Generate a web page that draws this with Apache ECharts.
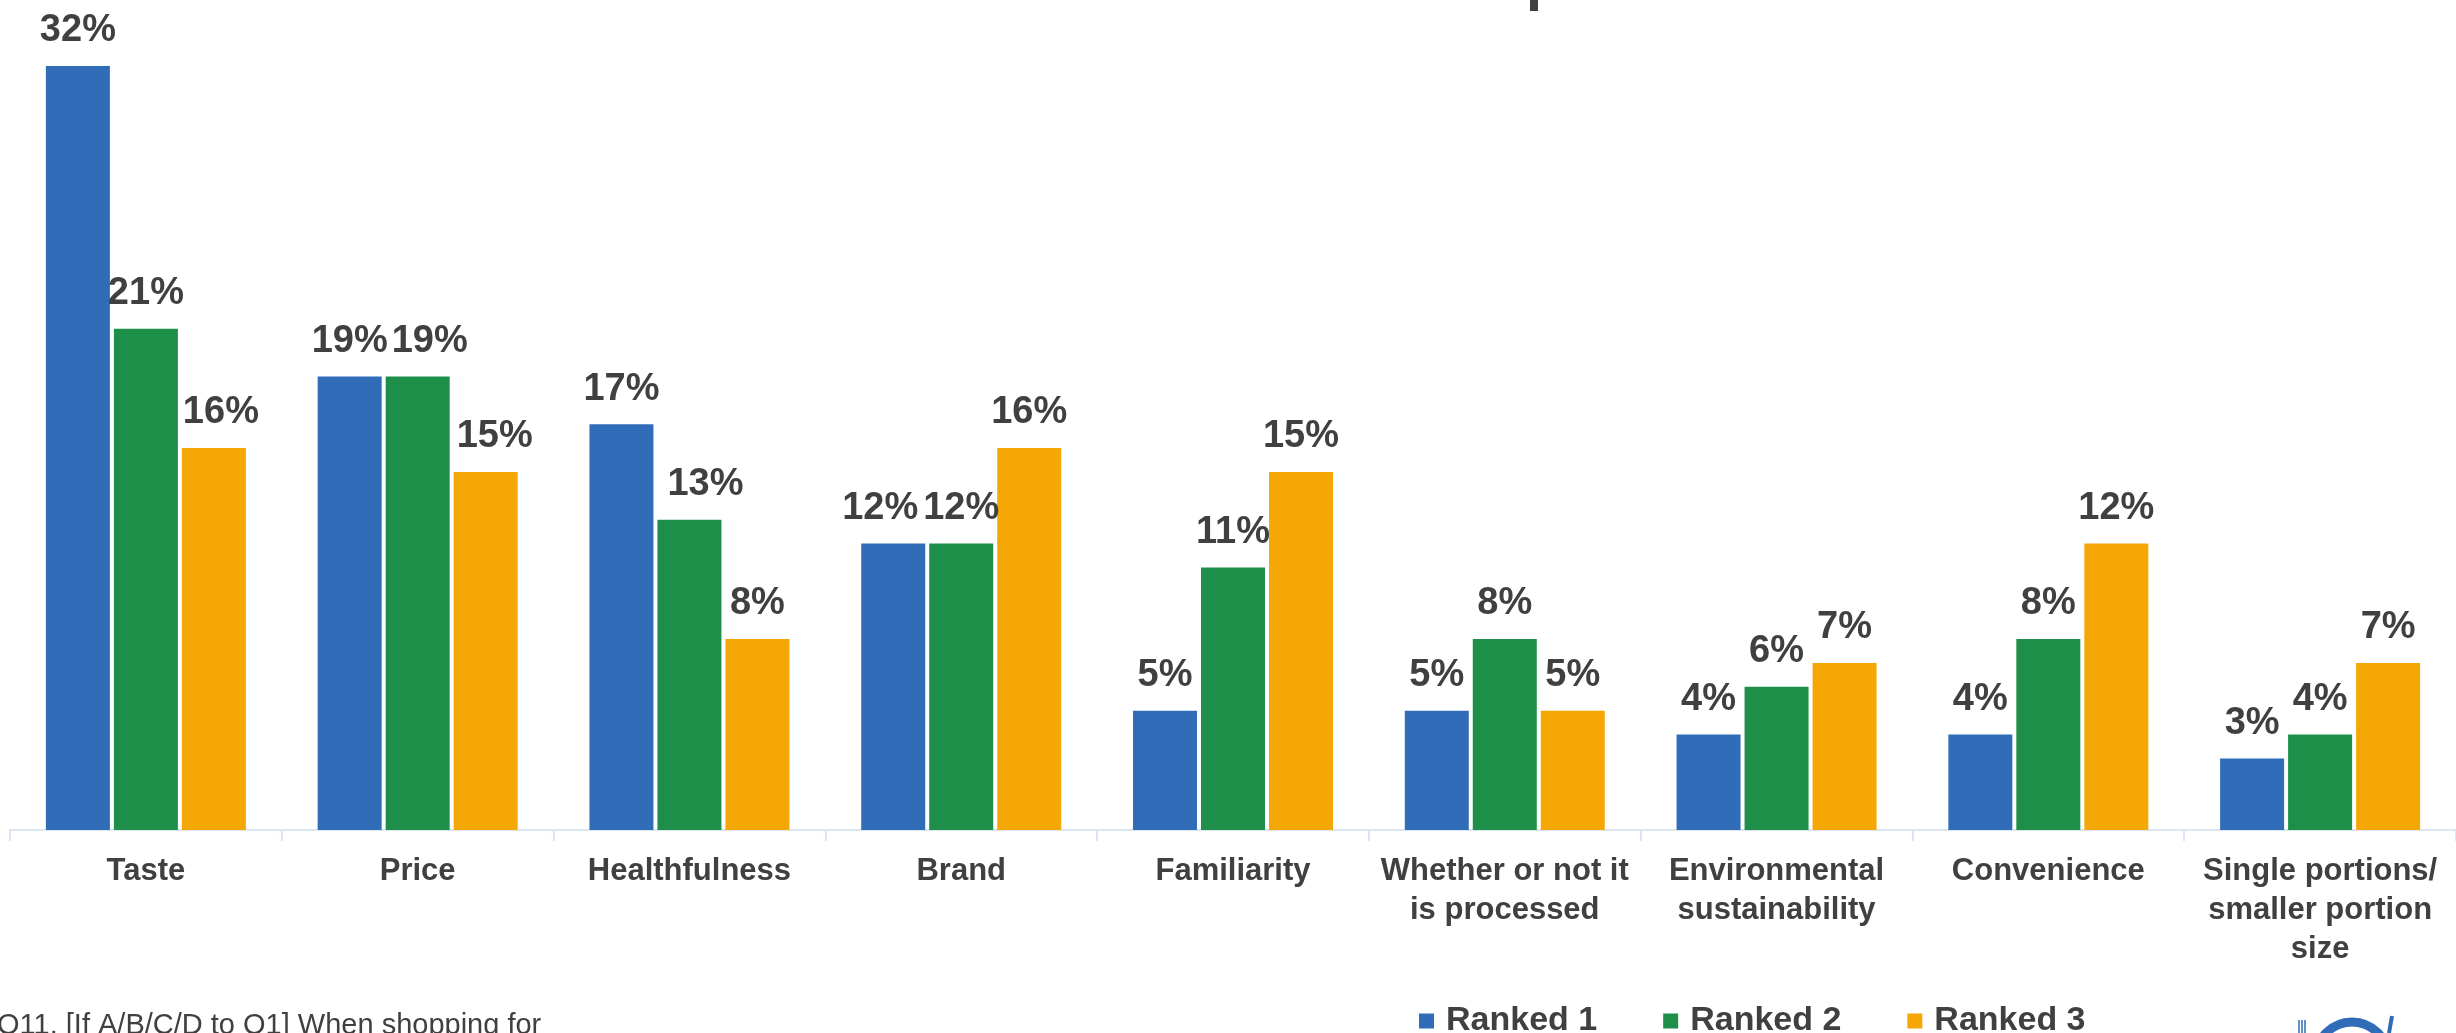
<!DOCTYPE html>
<html>
<head>
<meta charset="utf-8">
<title>Purchase drivers ranking</title>
<script src="https://cdn.jsdelivr.net/npm/echarts@6/dist/echarts.min.js"></script>
<style>
  html, body { margin: 0; padding: 0; background: #ffffff; }
  #chart { width: 2456px; height: 1033px; }
</style>
</head>
<body>
<div id="chart"></div>
<script>
// Attributes shoppers ranked as their top three considerations
const categories = [
  'Taste',
  'Price',
  'Healthfulness',
  'Brand',
  'Familiarity',
  'Whether or not it\nis processed',
  'Environmental\nsustainability',
  'Convenience',
  'Single portions/\nsmaller portion\nsize'
];

// Share of respondents (%) giving each rank
const ranked1 = [32, 19, 17, 12, 5, 5, 4, 4, 3];
const ranked2 = [21, 19, 13, 12, 11, 8, 6, 8, 4];
const ranked3 = [16, 15, 8, 16, 15, 5, 7, 12, 7];

const seriesNames = ['Ranked 1', 'Ranked 2', 'Ranked 3'];
const seriesColors = ['#306CB8', '#1D8F48', '#F5A706'];

const footnote = 'Q11. [If A/B/C/D to Q1] When shopping for';

const textColor = '#404040';
const fontFamily = '"Liberation Sans", Arial, sans-serif';

// Horizontal nudges (px) for value labels that would otherwise crowd a neighbour,
// keyed by category index, one table per series
const labelNudges = [
  { 3: -13 },
  { 1: 12, 2: 16 },
  { 0: 7, 1: 9 }
];

const chart = echarts.init(document.getElementById('chart'));

function makeSeries(idx, values) {
  const nudges = labelNudges[idx];
  return {
    name: seriesNames[idx],
    type: 'bar',
    data: values.map((v, i) => (
      nudges[i] !== undefined ? { value: v, label: { offset: [nudges[i], 0] } } : v
    )),
    barWidth: 64,
    barGap: '6.25%',
    itemStyle: { color: seriesColors[idx] },
    label: {
      show: true,
      position: 'top',
      distance: 16,
      formatter: '{c}%',
      color: textColor,
      fontFamily: fontFamily,
      fontWeight: 'bold',
      fontSize: 38,
      lineHeight: 38
    },
    emphasis: { disabled: true }
  };
}

chart.setOption({
  animation: false,
  backgroundColor: '#ffffff',
  grid: { left: 10, width: 2457, top: 66, bottom: 203, containLabel: false },
  legend: {
    data: seriesNames,
    left: 1414,
    top: 999,
    icon: 'rect',
    itemWidth: 15,
    itemHeight: 15,
    itemGap: 66,
    selectedMode: false,
    textStyle: {
      color: textColor,
      fontFamily: fontFamily,
      fontWeight: 'bold',
      fontSize: 34,
      padding: [0, 0, 0, 7]
    }
  },
  xAxis: {
    type: 'category',
    data: categories,
    axisLine: { lineStyle: { color: '#DCE6F2', width: 2 } },
    axisTick: { show: true, length: 11, lineStyle: { color: '#DCE6F2', width: 2 } },
    axisLabel: {
      margin: 22,
      interval: 0,
      color: textColor,
      fontFamily: fontFamily,
      fontWeight: 'bold',
      fontSize: 31,
      lineHeight: 39,
      align: 'center'
    }
  },
  yAxis: {
    type: 'value',
    min: 0,
    max: 32,
    show: false,
    splitLine: { show: false }
  },
  series: [makeSeries(0, ranked1), makeSeries(1, ranked2), makeSeries(2, ranked3)],
  graphic: [
    // descender of the heading above the plot
    { type: 'rect', shape: { x: 1530, y: 0, width: 8, height: 11 }, style: { fill: textColor } },
    // question footnote
    {
      type: 'text',
      left: -3,
      top: 1011,
      style: {
        text: footnote,
        fill: textColor,
        font: '29px "Liberation Sans", Arial, sans-serif'
      }
    },
    // corner logo mark
    { type: 'circle', shape: { cx: 2352, cy: 1058, r: 36 }, style: { fill: 'none', stroke: '#306CB8', lineWidth: 9 } },
    { type: 'line', shape: { x1: 2299, y1: 1020, x2: 2299, y2: 1033 }, style: { stroke: '#306CB8', lineWidth: 1.5 } },
    { type: 'line', shape: { x1: 2302, y1: 1020, x2: 2302, y2: 1033 }, style: { stroke: '#306CB8', lineWidth: 1.5 } },
    { type: 'line', shape: { x1: 2305, y1: 1020, x2: 2305, y2: 1033 }, style: { stroke: '#306CB8', lineWidth: 1.5 } },
    { type: 'line', shape: { x1: 2392, y1: 1016, x2: 2389, y2: 1033 }, style: { stroke: '#306CB8', lineWidth: 4 } }
  ]
});
</script>
</body>
</html>
